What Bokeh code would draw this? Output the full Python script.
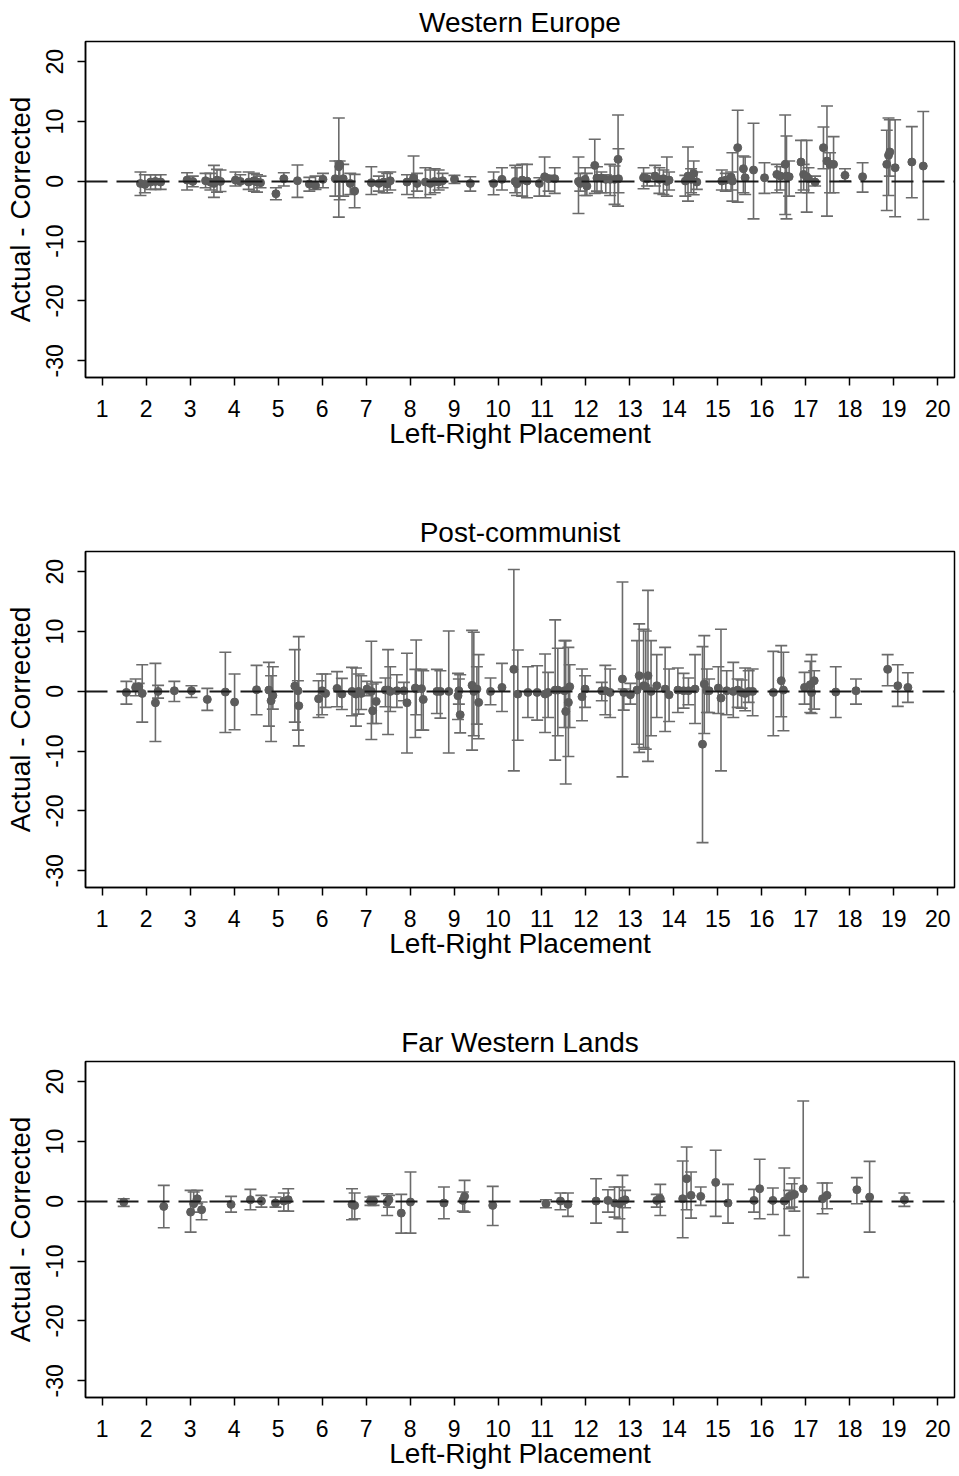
from bokeh.plotting import figure
from bokeh.models import ColumnDataSource, Whisker, TeeHead, Span, FixedTicker, Range1d
from bokeh.layouts import column
from bokeh.embed import file_html
from bokeh.resources import INLINE

titles = ["Western Europe", "Post-communist", "Far Western Lands"]
x_ticks = list(range(1, 21))
y_ticks = [-30, -20, -10, 0, 10, 20]
y_tick_labels = ["-30", "-20", "-10", "0", "10", "20"]

# ---------------- Western Europe ----------------
we_x = [1.87, 1.97, 2.10, 2.21, 2.33, 2.93, 3.06, 3.35, 3.46, 3.54, 3.61, 3.69, 4.03, 4.14, 4.33, 4.45, 4.52, 4.60,
        4.95, 5.13, 5.44, 5.71, 5.85, 6.02, 6.30, 6.38, 6.40, 6.48, 6.64, 6.74, 7.12, 7.29, 7.40, 7.48, 7.55, 7.93,
        8.08, 8.16, 8.35, 8.46, 8.56, 8.65, 8.74, 9.01, 9.37, 9.90, 10.09, 10.39, 10.43, 10.55, 10.66, 10.94, 11.06,
        11.15, 11.29, 11.83, 11.87, 11.98, 12.02, 12.20, 12.25, 12.35, 12.45, 12.55, 12.65, 12.73, 12.74, 13.31,
        13.39, 13.57, 13.67, 13.76, 13.84, 13.89, 14.26, 14.32, 14.39, 14.45, 14.52, 15.09, 15.18, 15.30, 15.33,
        15.45, 15.58, 15.62, 15.81, 16.06, 16.34, 16.42, 16.53, 16.56, 16.62, 16.89, 16.95, 17.02, 17.06, 17.21,
        17.40, 17.48, 17.55, 17.63, 17.89, 18.29, 18.84, 18.88, 18.91, 19.03, 19.41, 19.67]
we_y = [-0.34, -0.50, -0.11, 0.0, -0.11, 0.22, 0.0, 0.11, -0.11, -0.34, 0.22, 0.0, 0.22, 0.0, -0.11, 0.11, -0.11, -0.22,
        -2.07, 0.45, 0.11, -0.45, -0.67, 0.34, 0.45, 2.46, 2.85, 0.45, -0.34, -1.62, -0.22, -0.34, -0.11, -0.45, 0.11,
        -0.11, 0.56, -0.34, -0.11, -0.34, 0.0, -0.11, 0.11, 0.34, -0.34, -0.34, 0.34, 0.0, -0.39, 0.22, 0.06, -0.34,
        0.78, 0.45, 0.45, 0.0, -0.34, 0.34, -0.78, 2.68, 0.56, 0.56, 0.34, 0.34, 0.34, 3.69, 0.45, 0.61, 0.45, 0.89,
        0.34, 0.45, 0.0, 0.22, 0.06, 0.89, 0.34, 1.34, -0.11, 0.06, 0.22, 0.73, 0.06, 5.64, 2.12, 0.61, 1.90, 0.61,
        1.17, 0.89, 2.85, 0.89, 0.78, 3.24, 1.17, 0.78, 0.45, -0.11, 5.64, 3.41, 2.85, 2.85, 1.01, 0.78, 2.85, 4.36,
        4.92, 2.29, 3.24, 2.57]
we_lo = [-2.35, -1.90, -1.34, -1.34, -1.34, -1.45, -0.89, -1.06, -1.45, -2.68, -1.79, -1.68, -0.78, -0.34, -1.34,
         -1.62, -1.79, -1.06, -3.08, -0.78, -2.68, -1.62, -1.34, -1.06, -2.46, -5.98, -3.07, -2.46, -2.18, -4.41,
         -2.18, -1.62, -1.90, -1.90, -1.45, -2.18, -2.74, -1.62, -2.74, -2.18, -1.90, -1.45, -1.06, -0.34, -1.62,
         -2.23, -1.45, -1.90, -2.35, -2.46, -2.74, -2.46, -2.46, -1.62, -2.01, -5.36, -1.62, -2.35, -2.35, -2.01,
         -1.62, -1.90, -1.90, -2.35, -3.85, -4.13, -1.90, -1.23, -0.78, -0.78, -2.01, -2.18, -2.46, -1.45, -2.46,
         -3.30, -1.90, -2.23, -1.34, -1.45, -1.62, -1.45, -3.30, -3.46, -1.90, -2.18, -6.26, -2.01, -1.90, -1.45,
         -5.53, -6.26, -2.46, -1.90, -1.45, -5.14, -1.90, -0.78, 2.12, -5.81, -1.90, -1.90, 0.06, -1.79, -4.86,
         -2.35, 0.89, -5.92, -2.74, -6.37]
we_hi = [1.56, 1.12, 1.12, 1.12, 1.12, 1.45, 0.89, 1.34, 1.34, 2.68, 2.01, 1.90, 1.56, 1.12, 1.56, 1.34, 1.12, 0.89,
         -1.06, 1.45, 2.74, 0.67, 0.89, 1.34, 3.41, 10.6, 3.41, 2.85, 1.34, 1.17, 2.46, 0.89, 1.56, 1.34, 1.56, 1.12,
         4.25, 1.34, 2.29, 1.90, 2.12, 1.90, 1.34, 1.01, 0.78, 1.56, 2.29, 2.68, 2.29, 2.85, 2.85, 0.61, 4.08, 1.01,
         2.29, 4.08, 1.34, 2.29, 1.34, 7.04, 2.46, 1.56, 1.12, 2.85, 2.57, 11.1, 5.47, 2.29, 1.34, 2.68, 2.29, 1.90,
         4.08, 1.56, 1.01, 5.75, 2.12, 3.41, 1.56, 1.90, 1.34, 1.56, 4.80, 11.9, 4.25, 4.08, 9.72, 3.13, 2.85, 2.46,
         11.1, 7.60, 3.41, 6.87, 2.85, 6.87, 2.29, 0.89, 9.11, 12.6, 4.80, 7.49, 2.12, 3.13, 8.55, 10.6, 10.3, 10.3,
         9.16, 11.7]

# ---------------- Post-communist ----------------
pc_x = [1.55, 1.76, 1.83, 1.91, 2.21, 2.27, 2.64, 3.03, 3.39, 3.80, 4.01, 4.51, 4.79, 4.84, 4.88, 5.38, 5.45, 5.47,
        5.92, 6.00, 6.08, 6.34, 6.45, 6.68, 6.77, 6.83, 6.89, 7.02, 7.12, 7.15, 7.23, 7.44, 7.50, 7.55, 7.70, 7.86,
        7.93, 8.12, 8.14, 8.26, 8.30, 8.61, 8.69, 8.88, 9.09, 9.11, 9.14, 9.41, 9.45, 9.52, 9.56, 9.83, 10.09, 10.36,
        10.45, 10.68, 10.89, 11.07, 11.14, 11.30, 11.36, 11.51, 11.54, 11.60, 11.63, 11.91, 11.98, 12.36, 12.44,
        12.55, 12.83, 12.86, 13.01, 13.16, 13.21, 13.31, 13.36, 13.41, 13.48, 13.61, 13.80, 13.89, 14.09, 14.22,
        14.33, 14.48, 14.65, 14.69, 14.75, 14.80, 15.01, 15.07, 15.20, 15.35, 15.45, 15.54, 15.62, 15.70, 15.79,
        16.26, 16.44, 16.49, 16.97, 17.10, 17.13, 17.19, 17.68, 18.14, 18.86, 19.09, 19.32]
pc_y = [-0.17, 0.67, 0.78, -0.34, -1.90, 0.0, 0.11, 0.11, -1.34, -0.11, -1.79, 0.28, 0.22, -1.56, -0.67, 0.89, 0.11,
        -2.40, -1.23, 0.11, -0.34, 0.50, -0.45, 0.0, -0.45, 0.0, -0.34, 0.39, 0.0, -3.24, -1.68, 0.22, 0.22, 0.0, 0.11,
        0.11, -1.90, 0.56, 0.39, 0.45, -1.34, 0.0, 0.0, 0.0, -0.73, 0.11, -3.91, 1.01, 0.0, 0.39, -1.84, 0.0, 0.67,
        3.69, -0.45, -0.17, -0.17, -0.45, -0.17, 0.22, 0.22, 0.11, -3.35, -1.84, 0.78, -0.89, 0.39, 0.11, 0.11, -0.17,
        2.07, -0.17, -0.56, 0.22, 2.63, 0.95, 0.78, 2.63, 0.0, 0.95, 0.39, -0.56, 0.22, 0.11, 0.11, 0.39, -8.83, 1.23,
        0.11, 0.11, 0.56, -1.12, 0.11, 0.0, 0.22, -0.17, -0.34, 0.0, 0.0, -0.17, 1.79, 0.22, 0.67, 1.12, -0.17, 1.79,
        -0.11, 0.11, 3.69, 0.95, 0.67]
pc_lo = [-2.12, -0.73, 0.11, -5.14, -8.38, -1.12, -1.68, -1.01, -3.18, -6.87, -6.42, -3.91, -5.81, -8.38, -2.96,
         -5.14, -6.48, -9.11, -4.36, -3.91, -2.68, -2.57, -3.02, -4.08, -5.81, -3.80, -3.02, -0.73, -8.04, -5.36,
         -5.36, -2.57, -7.21, -3.35, -2.68, -1.56, -10.3, -7.71, -3.91, -6.48, -6.48, -3.69, -4.47, -10.3, -4.69,
         -2.12, -6.93, -9.83, -7.43, -5.47, -7.93, -2.23, -3.35, -13.3, -8.16, -4.36, -4.80, -6.87, -4.36, -11.5,
         -7.43, -6.03, -15.5, -10.9, -6.03, -4.92, -2.68, -1.56, -3.91, -4.36, -14.3, -3.13, -2.12, -8.83, -10.2,
         -9.39, -9.66, -11.7, -7.43, -4.36, -6.70, -5.03, -3.52, -2.79, -2.23, -5.36, -25.3, -7.04, -3.52, -3.52,
         -3.69, -13.3, -3.91, -4.36, -2.68, -2.79, -3.24, -1.84, -4.08, -7.43, -4.25, -6.59, -2.12, -3.52, -3.69,
         -2.96, -4.36, -2.12, 0.95, -2.51, -1.84]
pc_hi = [1.68, 2.07, 1.34, 4.47, 4.69, 1.01, 1.68, 0.95, 0.50, 6.54, 2.91, 4.36, 4.86, 2.63, 4.13, 6.98, 1.79, 9.16,
         1.79, 2.91, 2.91, 3.30, 2.18, 4.02, 3.91, 2.91, 2.63, 1.68, 8.38, 1.23, 1.51, 2.23, 6.98, 4.13, 2.79, 1.51,
         6.37, 3.69, 8.60, 3.69, 3.46, 3.69, 3.46, 10.1, 3.02, 2.07, 2.79, 10.2, 9.89, 4.13, 6.15, 2.23, 4.69, 20.4,
         6.93, 4.13, 4.30, 6.26, 3.18, 11.96, 7.21, 8.49, 8.49, 7.37, 4.47, 3.74, 2.63, 1.51, 4.36, 3.74, 18.3, 0.39,
         1.34, 8.49, 11.3, 10.4, 10.1, 16.9, 8.49, 6.15, 7.37, 3.74, 3.91, 3.02, 2.23, 6.15, 7.49, 9.33, 3.74, 2.07,
         4.13, 10.4, 3.46, 4.86, 2.07, 1.90, 3.91, 3.46, 3.74, 6.70, 7.65, 6.54, 3.18, 5.03, 6.15, 3.46, 4.13, 2.07,
         6.15, 4.47, 3.13]

# ---------------- Far Western Lands ----------------
fw_x = [1.49, 2.40, 3.01, 3.08, 3.16, 3.26, 3.93, 4.37, 4.62, 4.94, 5.13, 5.23, 6.68, 6.74, 7.10, 7.17, 7.48, 7.52,
        7.80, 8.01, 8.77, 9.20, 9.24, 9.88, 11.09, 11.42, 11.59, 12.23, 12.50, 12.65, 12.76, 12.83, 12.89, 13.61,
        13.69, 14.20, 14.29, 14.39, 14.61, 14.95, 15.23, 15.82, 15.95, 16.25, 16.51, 16.62, 16.68, 16.74, 16.94,
        17.38, 17.48, 18.16, 18.45, 19.24]
fw_y = [-0.11, -0.84, -1.79, -0.39, 0.45, -1.40, -0.50, 0.28, 0.06, -0.28, 0.06, 0.28, -0.50, -0.67, 0.06, 0.06,
        -0.11, 0.28, -1.96, -0.11, -0.28, 0.17, 0.84, -0.67, -0.39, 0.06, -0.50, 0.06, 0.17, -0.28, -0.39, 0.06, 0.28,
        0.17, 0.45, 0.45, 3.80, 1.01, 0.84, 3.18, -0.28, 0.17, 2.12, 0.17, 0.06, 0.84, 1.01, 1.17, 2.12, 0.45, 1.01,
        1.96, 0.73, 0.28]
fw_lo = [-0.84, -4.41, -5.14, -1.79, -0.39, -3.07, -1.79, -1.40, -0.95, -0.95, -1.62, -1.62, -3.07, -2.91, -0.67,
         -0.67, -2.35, -0.95, -5.31, -5.31, -2.91, -1.62, -1.79, -4.02, -1.06, -1.40, -2.51, -3.63, -1.79, -2.63,
         -2.91, -5.14, -1.06, -0.95, -2.35, -6.09, -1.40, -2.79, -0.67, -2.51, -3.63, -1.79, -2.91, -2.18, -5.70,
         -1.23, -0.95, -1.62, -12.7, -2.07, -1.23, -0.39, -5.14, -0.84]
fw_hi = [0.45, 2.68, 1.84, 1.56, 1.84, -0.11, 0.84, 2.01, 1.01, 0.73, 1.40, 2.12, 2.12, 1.40, 0.73, 0.84, 1.28, 1.01,
         1.17, 4.92, 2.40, 1.56, 3.52, 2.51, 0.28, 1.40, 1.40, 3.80, 1.96, 2.40, 2.40, 4.36, 1.84, 1.17, 2.85, 6.76,
         9.11, 4.92, 2.40, 8.55, 2.85, 2.01, 7.04, 2.23, 5.59, 1.84, 2.96, 3.91, 16.8, 3.07, 3.07, 3.97, 6.70, 1.40]

FONT = "Liberation Sans"
DOT = "#5c5c5c"
BAR = "#6b6b6b"


def make_panel(title, xs, ys, los, his, border_bottom):
    p = figure(frame_width=869, frame_height=336, min_border_left=85, min_border_right=5,
               min_border_top=41, min_border_bottom=border_bottom,
               x_range=Range1d(0.62, 20.38), y_range=Range1d(-32.8, 23.4),
               output_backend="svg", toolbar_location=None, title=title)
    p.title.align = "center"
    p.title.text_font = FONT
    p.title.text_font_size = "28px"
    p.title.text_font_style = "normal"
    p.title.text_color = "black"
    p.title.standoff = 8
    p.xgrid.visible = False
    p.ygrid.visible = False
    p.outline_line_color = "black"
    p.outline_line_width = 1.5
    p.background_fill_color = "white"
    p.border_fill_color = "white"

    for ax in (p.xaxis[0], p.yaxis[0]):
        ax.axis_line_color = "black"
        ax.axis_line_width = 1.5
        ax.major_tick_line_color = "black"
        ax.major_tick_line_width = 1.5
        ax.major_tick_out = 8
        ax.major_tick_in = 0
        ax.minor_tick_line_color = None
        ax.major_label_text_font = FONT
        ax.major_label_text_font_size = "23px"
        ax.major_label_text_color = "black"
        ax.axis_label_text_font = FONT
        ax.axis_label_text_font_size = "28px"
        ax.axis_label_text_font_style = "normal"
        ax.axis_label_text_color = "black"
    p.xaxis.ticker = FixedTicker(ticks=x_ticks)
    p.yaxis.ticker = FixedTicker(ticks=y_ticks)
    p.yaxis.major_label_overrides = {t: s for t, s in zip(y_ticks, y_tick_labels)}
    p.yaxis.major_label_orientation = "vertical"
    p.xaxis.axis_label = "Left-Right Placement"
    p.yaxis.axis_label = "Actual - Corrected"
    p.xaxis.major_label_standoff = 14
    p.yaxis.major_label_standoff = 14
    p.xaxis.axis_label_standoff = -2
    p.yaxis.axis_label_standoff = 8

    p.add_layout(Span(location=0, dimension="width", line_color="#1a1a1a",
                      line_width=2, line_dash="22 9"))

    src = ColumnDataSource(dict(x=xs, y=ys, lo=los, hi=his))
    p.add_layout(Whisker(source=src, base="x", upper="hi", lower="lo", dimension="height",
                         line_color=BAR, line_width=1.6,
                         upper_head=TeeHead(size=12, line_color=BAR, line_width=1.6),
                         lower_head=TeeHead(size=12, line_color=BAR, line_width=1.6)))
    p.scatter("x", "y", source=src, size=8, fill_color=DOT, line_color=DOT)
    return p


p1 = make_panel(titles[0], we_x, we_y, we_lo, we_hi, 133)
p2 = make_panel(titles[1], pc_x, pc_y, pc_lo, pc_hi, 133)
p3 = make_panel(titles[2], fw_x, fw_y, fw_lo, fw_hi, 79)

layout = column(p1, p2, p3, spacing=0)
open("out.html", "w").write(file_html(layout, INLINE))
